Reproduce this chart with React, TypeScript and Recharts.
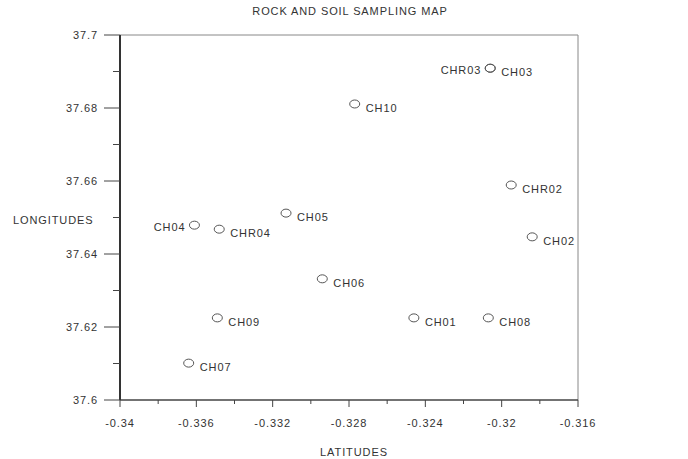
import { ReferenceLine, Scatter, ScatterChart, XAxis, YAxis } from "recharts"

// sample name, latitude (x), longitude (y)
const SAMPLE_NAMES = ['CH03', 'CHR03', 'CH10', 'CHR02', 'CH02', 'CH05', 'CH04', 'CHR04', 'CH06', 'CH09', 'CH01', 'CH08', 'CH07'];
const LATITUDES = [-0.3206, -0.3206, -0.3277, -0.3195, -0.3184, -0.3313, -0.3361, -0.3348, -0.3294, -0.3349, -0.3246, -0.3207, -0.3364];
const LONGITUDES = [37.6909, 37.6909, 37.6811, 37.6589, 37.6447, 37.6512, 37.6479, 37.6468, 37.6332, 37.6225, 37.6225, 37.6225, 37.6101];

// names whose label sits left of the marker
const LEFT_LABELS = ['CHR03', 'CH04'];

const X_MAJOR = [-0.34, -0.336, -0.332, -0.328, -0.324, -0.32, -0.316];
const X_MINOR = [-0.338, -0.334, -0.33, -0.326, -0.322, -0.318];
const Y_MAJOR = [37.6, 37.62, 37.64, 37.66, 37.68, 37.7];
const Y_MINOR = [37.61, 37.63, 37.65, 37.67, 37.69];

const samples = SAMPLE_NAMES.map((name, i) => ({ name, x: LATITUDES[i], y: LONGITUDES[i] }));

const FONT = "'Liberation Sans', Arial, sans-serif";
const TEXT = '#333';
const SPACING = 0.9;

const XTick = (props: any) => {
    const { x, y, payload } = props;
    const major = X_MAJOR.includes(payload.value);
    return (
        <g>
            <line x1={x} x2={x} y1={y} y2={y + (major ? 7 : 4)} stroke="#444" strokeWidth={1} />
            {major && (
                <text x={x} y={y + 27} textAnchor="middle" fontSize={11} fill={TEXT}
                    fontFamily={FONT} letterSpacing={SPACING}>
                    {String(payload.value)}
                </text>
            )}
        </g>
    );
};

const YTick = (props: any) => {
    const { x, y, payload } = props;
    const major = Y_MAJOR.includes(payload.value);
    return (
        <g>
            <line x1={x - (major ? 16 : 7)} x2={x} y1={y} y2={y} stroke="#444" strokeWidth={1} />
            {major && (
                <text x={x - 22} y={y + 4} textAnchor="end" fontSize={11} fill={TEXT}
                    fontFamily={FONT} letterSpacing={SPACING}>
                    {String(payload.value)}
                </text>
            )}
        </g>
    );
};

const SampleMarker = (props: any) => {
    const { cx, cy, payload } = props;
    const left = LEFT_LABELS.includes(payload.name);
    return (
        <g>
            <ellipse cx={cx} cy={cy} rx={5} ry={4} fill="none" stroke="#555" strokeWidth={1} />
            <text
                x={left ? cx - 9 : cx + 11}
                y={left ? cy + 6 : cy + 8}
                textAnchor={left ? 'end' : 'start'}
                fontSize={11}
                fill={TEXT}
                fontFamily={FONT}
                letterSpacing={SPACING}
            >
                {payload.name}
            </text>
        </g>
    );
};

const labelStyle: React.CSSProperties = {
    position: 'absolute',
    fontFamily: FONT,
    fontSize: 11,
    lineHeight: '11px',
    color: TEXT,
    letterSpacing: SPACING,
    whiteSpace: 'nowrap',
};

export default function App() {
    return (
        <div style={{ position: 'absolute', left: 0, top: 0, width: 688, height: 459, background: '#fff' }}>
            <ScatterChart width={688} height={459} margin={{ top: 35, right: 110, bottom: 0, left: 0 }}>
                <XAxis
                    type="number"
                    dataKey="x"
                    domain={[-0.34, -0.316]}
                    ticks={[...X_MAJOR, ...X_MINOR]}
                    interval={0}
                    allowDataOverflow
                    height={59}
                    tickSize={0}
                    tickMargin={0}
                    tickLine={false}
                    tick={XTick}
                    axisLine={{ stroke: '#444', strokeWidth: 1.5 }}
                />
                <YAxis
                    type="number"
                    dataKey="y"
                    domain={[37.6, 37.7]}
                    ticks={[...Y_MAJOR, ...Y_MINOR]}
                    interval={0}
                    allowDataOverflow
                    width={120}
                    tickSize={0}
                    tickMargin={0}
                    tickLine={false}
                    tick={YTick}
                    axisLine={{ stroke: '#333', strokeWidth: 2 }}
                />
                <ReferenceLine y={37.7} stroke="#888" strokeWidth={1} />
                <ReferenceLine x={-0.316} stroke="#888" strokeWidth={1} />
                <Scatter data={samples} shape={SampleMarker} isAnimationActive={false} />
            </ScatterChart>
            <div style={{ ...labelStyle, left: 0, width: 700, top: 6, textAlign: 'center' }}>
                ROCK AND SOIL SAMPLING MAP
            </div>
            <div style={{ ...labelStyle, left: 13, top: 215 }}>LONGITUDES</div>
            <div style={{ ...labelStyle, left: 0, width: 708, top: 447, textAlign: 'center' }}>LATITUDES</div>
        </div>
    );
}
